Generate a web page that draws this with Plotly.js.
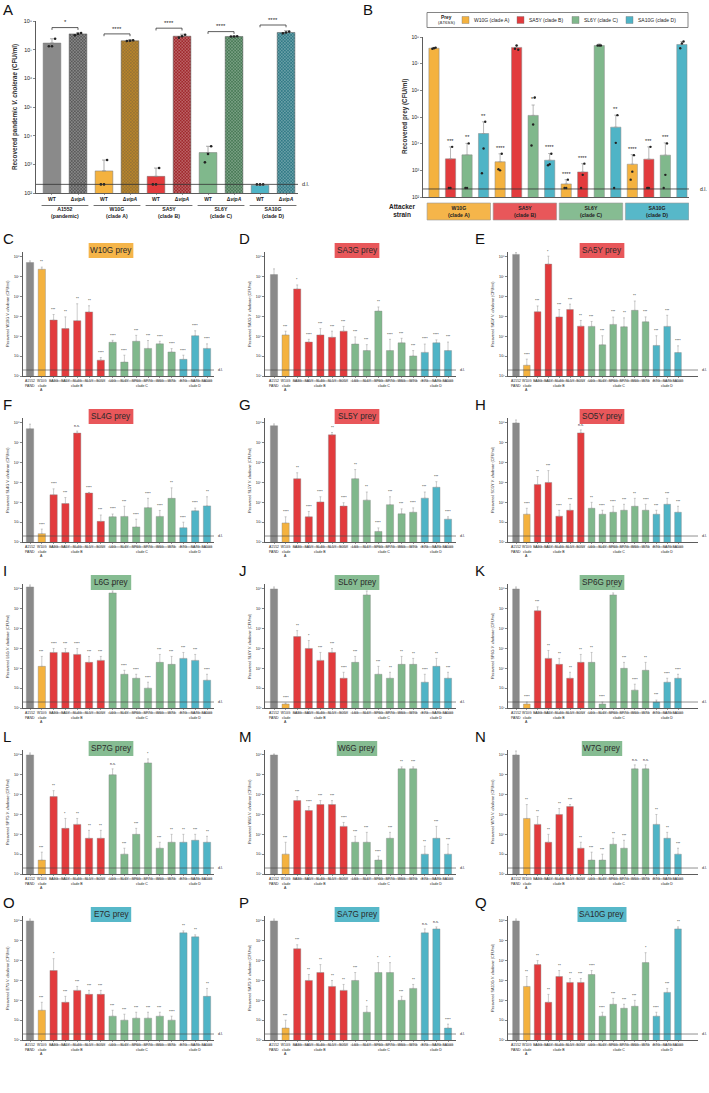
<!DOCTYPE html>
<html><head><meta charset="utf-8">
<script src="https://cdn.plot.ly/plotly-3.0.1.min.js"></script>
<style>html,body{margin:0;padding:0;background:#fff}#chart{width:709px;height:1093px}</style>
</head><body><div id="chart"></div>
<script>
// ---------------- DATA ----------------
// Panel A
const aGroups = ["A1552<br>(pandemic)","W10G<br>(clade A)","SA5Y<br>(clade B)","SL6Y<br>(clade C)","SA10G<br>(clade D)"];
const aWT = [7.23, 2.77, 2.58, 3.41, 2.27];
const aWTerr = [7.38, 3.15, 2.87, 3.63, null];
const aDel = [7.55, 7.31, 7.47, 7.46, 7.60];
const aDelErr = [7.59, 7.35, 7.54, 7.48, 7.66];
const aWTdots = [[7.12,7.12,7.38],[2.3,2.3,3.15],[2.3,2.3,2.87],[3.07,3.36,3.63],[2.3,2.3,2.3]];
const aDelDots = [[7.50,7.55,7.58],[7.30,7.31,7.33],[7.42,7.47,7.52],[7.46,7.46,7.47],[7.57,7.60,7.63]];
const aBracket = [7.77, 7.55, 7.75, 7.63, 7.86];
const aSig = ["*","****","****","****","****"];
// Panel B (attacker groups: W10G, SA5Y, SL6Y, SA10G)
const bAttackers = ["W10G<br>(clade A)","SA5Y<br>(clade B)","SL6Y<br>(clade C)","SA10G<br>(clade D)"];
const bPrey = ["W10G (clade A)","SA5Y (clade B)","SL6Y (clade C)","SA10G (clade D)"];
const bVal = [[7.58,3.32,2.49,3.23],[3.43,7.61,2.94,3.42],[3.58,5.06,7.68,3.57],[4.38,3.38,4.62,7.72]];
const bErr = [[7.61,3.62,2.65,3.59],[3.88,7.68,3.25,3.88],[4.01,5.45,7.74,4.03],[4.82,3.63,5.07,7.83]];
const bSig = [["","****","****","****"],["***","","****","***"],["**","**","","***"],["**","****","**",""]];
const bDots = [
 [[7.56,7.58,7.60],[3.04,3.00,3.62],[2.34,2.34,2.65],[2.65,2.95,3.57]],
 [[2.34,2.34,3.88],[7.56,7.68,7.52],[2.34,2.83,3.25],[2.34,2.34,3.88]],
 [[2.34,2.34,4.01],[3.93,4.72,5.73],[7.68,7.68,7.68],[2.34,2.83,4.01]],
 [[2.89,3.82,4.82],[3.19,3.23,3.62],[2.34,4.03,5.07],[7.58,7.76,7.83]]];
// Panels C-Q
const cats = ["A1552","W10G","SA3G","SA5Y","SL4G","SL5Y","SO5Y","L6G","SL6Y","SP6G","SP7G","W6G","W7G","E7G","SA7G","SA10G"];
const catClade = ["P","A","B","B","B","B","B","C","C","C","C","C","C","D","D","D"];
const preyNames = ["W10G","SA3G","SA5Y","SL4G","SL5Y","SO5Y","L6G","SL6Y","SP6G","SP7G","W6G","W7G","E7G","SA7G","SA10G"];
const preyClade = ["A","B","B","B","B","B","C","C","C","C","C","C","D","D","D"];

const cVal=[7.72,7.38,4.82,4.39,4.79,5.23,2.80,3.70,2.70,3.75,3.39,3.62,3.21,2.84,4.03,3.39];
const cErr=[7.80,7.49,5.10,4.98,5.64,5.54,2.93,3.80,3.05,4.05,3.79,3.75,3.38,3.05,4.28,3.62];
const cSig=["","**","***","**","**","**","****","****","****","***","***","****","****","****","****","****"];
const dVal=[7.11,4.07,6.39,3.71,4.07,3.95,4.26,3.61,3.28,5.27,3.28,3.67,3.01,3.19,3.67,3.28];
const dErr=[7.40,4.26,6.59,3.85,4.39,4.26,4.50,3.97,3.58,5.48,3.85,3.90,3.28,3.61,3.82,3.71];
const dSig=["","***","*","****","***","***","***","***","***","**","****","***","***","****","****","***"];
const eVal=[8.13,2.54,5.24,7.64,4.98,5.35,4.51,4.50,3.57,4.60,4.48,5.31,4.73,3.54,4.50,3.18];
const eErr=[8.22,2.85,5.53,8.04,5.35,5.62,4.80,4.75,4.03,4.97,4.93,5.78,4.98,4.03,5.06,3.52];
const eSig=["","****","***","*","***","***","**","***","***","***","**","**","***","***","***","****"];
const fVal=[7.71,2.42,4.38,3.94,7.49,4.47,3.04,3.27,3.29,2.76,3.73,3.29,4.20,2.72,3.57,3.82];
const fErr=[7.94,2.65,4.68,4.24,7.59,4.50,3.36,3.41,3.80,3.15,4.20,3.59,4.73,3.00,3.71,4.28];
const fSig=["","****","****","***","n.s.","****","***","****","***","****","****","****","**","****","****","**"];
const gVal=[7.86,2.96,5.19,3.27,4.02,7.40,3.81,5.19,4.11,2.53,3.88,3.42,3.50,4.21,4.76,3.15];
const gErr=[7.95,3.27,5.49,3.54,4.28,7.52,3.98,5.65,4.52,2.71,4.28,3.67,3.72,4.52,5.04,3.27];
const gSig=["","****","**","****","****","**","****","**","**","****","***","***","****","***","***","****"];
const hVal=[8.00,3.40,4.90,5.00,3.30,3.60,7.50,3.70,3.40,3.50,3.60,3.80,3.60,3.40,3.90,3.50];
const hErr=[8.15,3.70,5.30,5.60,3.60,3.90,7.65,4.00,3.60,3.80,3.90,4.20,3.90,3.60,4.20,3.80];
const hSig=["","****","**","***","****","***","n.s.","**","****","****","***","**","****","***","***","***"];
const iVal=[8.10,4.10,4.80,4.80,4.70,4.30,4.40,7.80,3.70,3.50,3.00,4.30,4.20,4.50,4.40,3.40];
const iErr=[8.20,4.60,5.00,5.00,5.00,4.60,4.60,7.90,3.90,3.70,3.30,4.70,4.60,4.80,4.70,3.70];
const iSig=["","***","****","***","****","***","***","**","****","****","****","***","***","***","***","****"];
const jVal=[8.00,2.20,5.60,5.00,4.40,4.80,3.50,4.30,7.70,3.70,3.50,4.20,4.20,3.30,4.10,3.50];
const jErr=[8.10,2.25,5.90,5.40,4.80,5.00,3.80,4.60,7.90,4.10,3.80,4.60,4.50,3.70,4.50,3.80];
const jSig=["","****","**","*","***","***","****","***","**","***","**","**","**","****","**","***"];
const kVal=[8.00,2.20,6.90,4.50,4.20,3.50,4.30,4.30,2.20,7.70,4.00,2.90,3.90,2.30,3.30,3.50];
const kErr=[8.10,2.30,7.10,4.90,4.50,3.80,4.70,4.80,2.30,7.80,4.30,3.20,4.30,2.40,3.50,3.70];
const kSig=["","****","***","**","**","**","**","**","****","**","***","****","**","***","****","****"];
const lVal=[8.00,2.70,5.90,4.30,4.50,3.80,3.80,7.00,3.00,4.00,7.60,3.30,3.60,3.60,3.70,3.60];
const lErr=[8.10,3.10,6.20,4.80,4.80,4.20,4.20,7.30,3.30,4.30,7.80,3.60,4.00,4.00,4.00,3.90];
const lSig=["","***","**","*","**","**","**","n.s.","***","***","*","***","**","**","***","**"];
const mVal=[8.00,3.00,5.70,5.20,5.50,5.50,4.40,3.60,3.60,2.70,3.80,7.30,7.30,3.00,3.80,3.00];
const mErr=[8.05,3.60,5.90,5.40,5.70,5.70,4.60,3.90,4.10,2.90,4.10,7.40,7.40,3.40,4.40,3.50];
const mSig=["","***","***","****","***","***","****","***","***","****","***","**","***","**","***","***"];
const nVal=[8.00,4.80,4.50,3.60,5.00,5.40,3.30,2.70,2.70,3.50,3.30,7.30,7.30,4.50,3.80,3.00];
const nErr=[8.20,5.50,4.90,4.00,5.30,5.50,3.60,3.10,3.00,3.80,3.70,7.50,7.50,5.00,4.10,3.30];
const nSig=["","**","**","**","**","***","**","***","***","**","***","n.s.","n.s.","**","**","***"];
const oVal=[8.00,3.50,5.50,3.90,4.50,4.30,4.30,3.20,3.00,3.10,3.10,3.20,3.00,7.40,7.20,4.20];
const oErr=[8.10,3.90,6.10,4.20,4.70,4.50,4.50,3.50,3.30,3.40,3.40,3.40,3.20,7.50,7.30,4.60];
const oSig=["","***","*","***","***","***","***","***","***","***","***","***","****","**","**","**"];
const pVal=[8.00,2.60,6.60,5.00,5.40,4.70,4.50,5.00,3.40,5.40,5.40,4.00,4.60,7.40,7.60,2.60];
const pErr=[8.10,3.00,6.80,5.30,5.80,5.00,4.80,5.40,3.70,5.90,5.90,4.20,4.80,7.60,7.70,2.80];
const pSig=["","***","***","**","**","**","**","***","*","*","*","***","**","n.s.","n.s.","****"];
const qVal=[8.00,4.70,5.80,3.90,5.20,4.90,4.90,5.30,3.20,3.80,3.60,3.70,5.90,3.20,4.40,7.60];
const qErr=[8.10,5.20,6.00,4.30,5.50,5.10,5.10,5.50,3.40,4.10,3.80,4.00,6.40,3.40,4.60,7.70];
const qSig=["","**","**","**","**","**","***","****","****","***","***","***","*","****","***","**"];

const detectionLimit = 200;
const yTickText = ["10²","10³","10⁴","10⁵","10⁶","10⁷","10⁸"];

// ---------------- STYLE / LAYOUT ----------------
const W=709,H=1093;
const PX=x=>x/W, PY=y=>1-y/H;
const FONT="Arial, 'Liberation Sans', sans-serif";
const cladeColor={P:"#8a8a8a",A:"#F4B23F",B:"#E23B3D",C:"#80B88C",D:"#4FB4C6"};
const boxColor={A:"#F5B54A",B:"#E8575A",C:"#86BC92",D:"#57B8C9"};
const delColor={P:"#5a5a5a",A:"#b8852c",B:"#a0282c",C:"#477a55",D:"#317a86"};
const tickVals=[1e2,1e3,1e4,1e5,1e6,1e7,1e8];

const traces=[], annotations=[], shapes=[];
const layout={width:W,height:H,margin:{l:0,r:0,t:0,b:0},paper_bgcolor:"#fff",plot_bgcolor:"rgba(0,0,0,0)",
  showlegend:false,font:{family:FONT,color:"#222"},bargap:0};

function axId(k){return k===1?"":String(k);}
function setAxes(k,xr,yr,xdom,ydom,tfs,xticks){
  const s=axId(k);
  layout["xaxis"+s]={domain:xdom,range:xr,anchor:"y"+s,showgrid:false,zeroline:false,showline:true,linecolor:"#333",linewidth:0.8,
    ticks:xticks?"outside":"",ticklen:1.5,tickwidth:0.5,tickcolor:"#333",tickangle:0,fixedrange:true,
    tickvals:xticks?xticks.vals:[],ticktext:xticks?xticks.text:[],showticklabels:!!xticks,
    tickfont:{size:xticks?xticks.size:4,family:FONT,color:"#222",weight:xticks&&xticks.bold?"bold":"normal"}};
  layout["yaxis"+s]={domain:ydom,range:yr,type:"log",anchor:"x"+s,showgrid:false,zeroline:false,showline:true,linecolor:"#333",linewidth:0.8,
    ticks:"outside",ticklen:2,tickwidth:0.6,tickcolor:"#333",tickvals:tickVals,ticktext:yTickText,tickfont:{size:tfs,family:FONT,color:"#222"},fixedrange:true};
}
function xa(k){return "x"+axId(k);} function ya(k){return "y"+axId(k);}
function ann(o){annotations.push(Object.assign({showarrow:false,xanchor:"center",yanchor:"middle",font:{family:FONT,size:5,color:"#222"}},o));}
function F(size,bold,color){return {size:size,family:FONT,color:color||"#222",weight:bold?"bold":"normal"};}

// ---------- Panel A ----------
(function(){
  const k=1, xr=[-0.615,9.46];
  setAxes(k,xr,[2,8],[PX(36),PX(298)],[PY(193),PY(21)],5.4,
    {vals:[0,1,2,3,4,5,6,7,8,9],text:aWT.flatMap(()=>["WT","Δ<i>vipA</i>"]),size:5,bold:true});
  const wx=aWT.map((v,i)=>2*i), dx=aDel.map((v,i)=>2*i+1);
  const cl=["P","A","B","C","D"];
  traces.push({type:"bar",x:wx,y:aWT.map(v=>10**v),width:0.68,xaxis:"x",yaxis:"y",
    marker:{color:cl.map(c=>cladeColor[c]),line:{color:"#777",width:0.5}},
    error_y:{type:"data",symmetric:false,array:aWT.map((v,i)=>aWTerr[i]==null?0:10**aWTerr[i]-10**v),arrayminus:aWT.map(()=>0),color:"#888",thickness:0.7,width:2}});
  traces.push({type:"bar",x:dx,y:aDel.map(v=>10**v),width:0.68,xaxis:"x",yaxis:"y",
    marker:{color:cl.map(c=>delColor[c]),line:{color:"#555",width:0.5},pattern:{shape:"x",size:2.2,solidity:0.3,fillmode:"overlay",fgcolor:"#1a1a1a",fgopacity:0.6}},
    error_y:{type:"data",symmetric:false,array:aDel.map((v,i)=>10**aDelErr[i]-10**v),arrayminus:aDel.map(()=>0),color:"#888",thickness:0.7,width:2}});
  const dX=[],dY=[];
  aWTdots.forEach((arr,i)=>arr.forEach((v,j)=>{dX.push(2*i+(j-1)*0.12);dY.push(10**v);}));
  aDelDots.forEach((arr,i)=>arr.forEach((v,j)=>{dX.push(2*i+1+(j-1)*0.12);dY.push(10**v);}));
  traces.push({type:"scatter",mode:"markers",x:dX,y:dY,xaxis:"x",yaxis:"y",marker:{size:2.6,color:"#222"},cliponaxis:false});
  traces.push({type:"scatter",mode:"lines",x:[xr[0],xr[1]],y:[detectionLimit,detectionLimit],xaxis:"x",yaxis:"y",line:{color:"#333",width:0.8},cliponaxis:false});
  ann({xref:"paper",yref:"y",x:PX(300),y:Math.log10(detectionLimit),text:"d.l.",xanchor:"left",font:F(5.5)});
  aBracket.forEach((b,i)=>{
    traces.push({type:"scatter",mode:"lines",x:[2*i,2*i,2*i+1,2*i+1],y:[10**(b-0.08),10**b,10**b,10**(b-0.08)],xaxis:"x",yaxis:"y",line:{color:"#333",width:0.8},cliponaxis:false});
    ann({xref:"x",yref:"y",x:2*i+0.5,y:b+0.01,text:aSig[i],yanchor:"bottom",font:F(6)});
    shapes.push({type:"line",xref:"x",yref:"paper",x0:2*i-0.4,x1:2*i+1.4,y0:PY(205.5),y1:PY(205.5),line:{color:"#333",width:0.7}});
    ann({xref:"x",yref:"paper",x:2*i+0.5,y:PY(212.5),text:aGroups[i],font:F(5.2,true)});
  });
  ann({xref:"paper",yref:"paper",x:PX(15),y:PY(107),textangle:-90,text:"Recovered pandemic <i>V. cholerae</i> (CFU/ml)",font:F(6.3,true,"#333")});
  ann({xref:"paper",yref:"paper",x:PX(1),y:PY(10),xanchor:"left",text:"A",font:F(15,false,"#111")});
})();

// ---------- Panel B ----------
(function(){
  const k=2, xr=[-0.665,15.43];
  setAxes(k,xr,[2,8],[PX(423),PX(689)],[PY(197),PY(37)],5,null);
  const pc=["A","B","C","D"];
  for(let p=0;p<4;p++){
    const xs=[0,1,2,3].map(g=>4*g+p);
    traces.push({type:"bar",x:xs,y:bVal[p].map(v=>10**v),width:0.62,xaxis:"x2",yaxis:"y2",
      marker:{color:cladeColor[pc[p]],line:{color:"#888",width:0.5}},
      error_y:{type:"data",symmetric:false,array:bVal[p].map((v,i)=>10**bErr[p][i]-10**v),arrayminus:bVal[p].map(()=>0),color:"#999",thickness:0.7,width:1.6}});
    const dX=[],dY=[];
    bDots[p].forEach((arr,g)=>arr.forEach((v,j)=>{dX.push(4*g+p+(j-1)*0.1);dY.push(10**v);}));
    traces.push({type:"scatter",mode:"markers",x:dX,y:dY,xaxis:"x2",yaxis:"y2",marker:{size:2.4,color:"#222"},cliponaxis:false});
    bSig[p].forEach((s,g)=>{ if(s) ann({xref:"x2",yref:"y2",x:4*g+p,y:bErr[p][g]+0.04,text:s,yanchor:"bottom",font:F(5.5)}); });
  }
  traces.push({type:"scatter",mode:"lines",x:[xr[0],15.9],y:[detectionLimit,detectionLimit],xaxis:"x2",yaxis:"y2",line:{color:"#333",width:0.8},cliponaxis:false});
  ann({xref:"paper",yref:"y2",x:PX(698),y:Math.log10(detectionLimit),text:"d.l.",xanchor:"left",font:F(5.2)});
  bAttackers.forEach((t,g)=>{
    shapes.push({type:"rect",xref:"x2",yref:"paper",x0:4*g-0.42,x1:4*g+3.42,y0:PY(220),y1:PY(203),fillcolor:boxColor[pc[g]],line:{color:"#999",width:0.6}});
    ann({xref:"x2",yref:"paper",x:4*g+1.5,y:PY(211.5),text:t,font:F(5.2,true)});
  });
  ann({xref:"paper",yref:"paper",x:PX(402),y:PY(211),text:"Attacker<br>strain",font:F(6.5,true)});
  ann({xref:"paper",yref:"paper",x:PX(405),y:PY(117),textangle:-90,text:"Recovered prey (CFU/ml)",font:F(6.3,true,"#333")});
  ann({xref:"paper",yref:"paper",x:PX(361),y:PY(10),xanchor:"left",text:"B",font:F(15,false,"#111")});
  shapes.push({type:"rect",xref:"paper",yref:"paper",x0:PX(427),x1:PX(688),y0:PY(27.5),y1:PY(12.5),fillcolor:"#fff",line:{color:"#666",width:0.8}});
  ann({xref:"paper",yref:"paper",x:PX(446),y:PY(17.3),text:"Prey",font:F(4.8,true)});
  ann({xref:"paper",yref:"paper",x:PX(446),y:PY(23),text:"(ΔT6SS)",font:F(4.4)});
  const sqx=[462,517,572,626];
  bPrey.forEach((t,p)=>{
    shapes.push({type:"rect",xref:"paper",yref:"paper",x0:PX(sqx[p]),x1:PX(sqx[p]+7),y0:PY(23.5),y1:PY(16.5),fillcolor:cladeColor[pc[p]],line:{color:"#777",width:0.4}});
    ann({xref:"paper",yref:"paper",x:PX(sqx[p]+10),y:PY(20),xanchor:"left",text:t,font:F(5)});
  });
})();

// ---------- Panels C-Q ----------
const smallVals=[cVal,dVal,eVal,fVal,gVal,hVal,iVal,jVal,kVal,lVal,mVal,nVal,oVal,pVal,qVal];
const smallErr=[cErr,dErr,eErr,fErr,gErr,hErr,iErr,jErr,kErr,lErr,mErr,nErr,oErr,pErr,qErr];
const smallSig=[cSig,dSig,eSig,fSig,gSig,hSig,iSig,jSig,kSig,lSig,mSig,nSig,oSig,pSig,qSig];
const letters="CDEFGHIJKLMNOPQ";
const colGeom=[{ox:0,L:23,R:214,x0:30,x15:207,bx:111},{ox:236,L:265,R:456,x0:274,x15:448,bx:357},{ox:472,L:508,R:698,x0:516,x15:678,bx:602}];
const groupLabels=[{t:"PAND",x:0,x0:null},{t:"clade",x:1,x0:null},{t:"clade B",x:4,x0:1.6,x1:6.4},{t:"clade C",x:9.5,x0:6.6,x1:12.4},{t:"clade D",x:14,x0:12.6,x1:15.4}];
smallVals.forEach((vals,pi)=>{
  const k=pi+3, r=Math.floor(pi/3), c=pi%3, g=colGeom[c];
  const oy=225+166*r;
  const s=(g.x15-g.x0)/15;
  const xr=[(g.L-g.x0)/s, 15+(g.R-g.x15)/s];
  setAxes(k,xr,[2,8.25],[PX(g.L),PX(g.R)],[PY(oy+151),PY(oy+27)],3.7,
    {vals:cats.map((c,i)=>i),text:cats,size:3.4});
  const errs=smallErr[pi];
  traces.push({type:"bar",x:cats.map((c,i)=>i),y:vals.map(v=>10**v),width:0.62,xaxis:xa(k),yaxis:ya(k),
    marker:{color:catClade.map(cc=>cladeColor[cc]),line:{color:"#888",width:0.4}},
    error_y:{type:"data",symmetric:false,array:vals.map((v,i)=>10**errs[i]-10**v),arrayminus:vals.map(()=>0),color:"#999",thickness:0.5,width:1}});
  traces.push({type:"scatter",mode:"lines",x:[xr[0],xr[1]],y:[detectionLimit,detectionLimit],xaxis:xa(k),yaxis:ya(k),line:{color:"#444",width:0.6},cliponaxis:false});
  ann({xref:"paper",yref:ya(k),x:PX(g.R+2),y:Math.log10(detectionLimit),text:"d.l.",xanchor:"left",font:F(3.6)});
  smallSig[pi].forEach((st,i)=>{ if(st) ann({xref:xa(k),yref:ya(k),x:i,y:errs[i]+0.03,text:st,yanchor:"bottom",font:F(3.6)}); });
  groupLabels.forEach(gl=>{
    if(gl.x0!=null) shapes.push({type:"line",xref:xa(k),yref:"paper",x0:gl.x0,x1:gl.x1,y0:PY(oy+156),y1:PY(oy+156),line:{color:"#444",width:0.5}});
    ann({xref:xa(k),yref:"paper",x:gl.x,y:PY(oy+157),yanchor:"top",text:gl.t,font:F(3.5)});
  });
  ann({xref:xa(k),yref:"paper",x:1,y:PY(oy+161),yanchor:"top",text:"A",font:F(3.5)});
  const prey=preyNames[pi];
  ann({xref:"paper",yref:"paper",x:PX(g.L-15),y:PY(oy+89),textangle:-90,text:"Recovered "+prey+" <i>V. cholerae</i> (CFU/ml)",font:F(3.8,false,"#333")});
  ann({xref:"paper",yref:"paper",x:PX(g.ox+1),y:PY(oy+13),xanchor:"left",text:letters[pi],font:F(15,false,"#111")});
  const bw=6+4.3*(prey.length+5), cx=g.bx;
  shapes.push({type:"rect",xref:"paper",yref:"paper",x0:PX(cx-bw/2),x1:PX(cx+bw/2),y0:PY(oy+33),y1:PY(oy+18),fillcolor:boxColor[preyClade[pi]],line:{width:0}});
  ann({xref:"paper",yref:"paper",x:PX(cx),y:PY(oy+25.5),text:prey+" prey",font:F(8.2,false,"#2a2a2a")});
});

layout.annotations=annotations; layout.shapes=shapes;
Plotly.newPlot("chart",traces,layout,{staticPlot:true,displayModeBar:false});
</script></body></html>
